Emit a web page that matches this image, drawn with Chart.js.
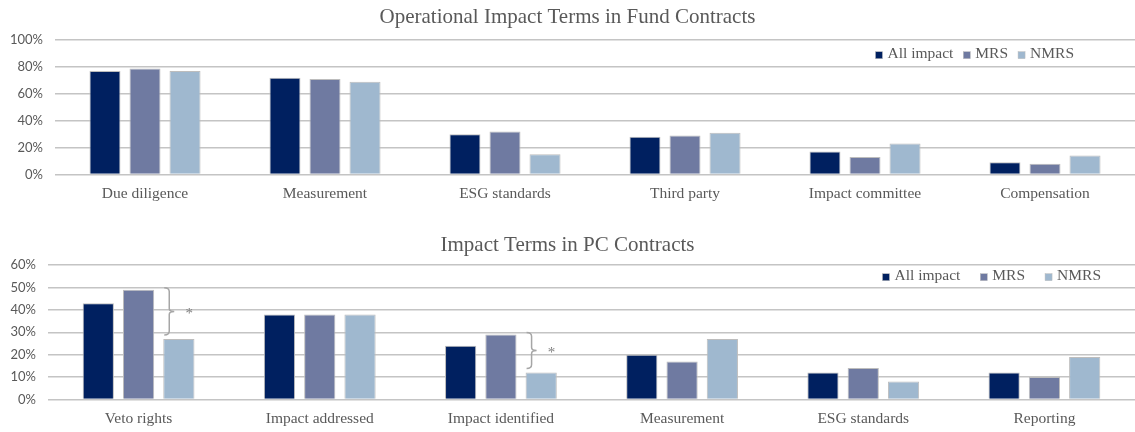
<!DOCTYPE html>
<html>
<head>
<meta charset="utf-8">
<script src="https://cdn.jsdelivr.net/npm/chart.js@4"></script>
<style>
  body { margin: 0; background: #fff; overflow: hidden; }
  .box { position: absolute; left: 0; width: 1135px; }
  #top { top: 0; height: 207px; }
  #bottom { top: 228px; height: 204px; }
</style>
</head>
<body>
<div class="box" id="top"><canvas id="fundChart" width="1135" height="207"></canvas></div>
<div class="box" id="bottom"><canvas id="pcChart" width="1135" height="204"></canvas></div>
<script>
const seriesNames = ['All impact', 'MRS', 'NMRS'];

const fundCats = ['Due diligence', 'Measurement', 'ESG standards', 'Third party', 'Impact committee', 'Compensation'];
const fundAll = [77, 72, 30, 28, 17, 9];
const fundMrs = [79, 71, 32, 29, 13, 8];
const fundNmrs = [77, 69, 15, 31, 23, 14];

const pcCats = ['Veto rights', 'Impact addressed', 'Impact identified', 'Measurement', 'ESG standards', 'Reporting'];
const pcAll = [43, 38, 24, 20, 12, 12];
const pcMrs = [49, 38, 29, 17, 14, 10];
const pcNmrs = [27, 38, 12, 27, 8, 19];
// categories with a significant MRS vs NMRS difference
const pcSig = [0, 2];

const colors = ['#002060', '#6f7aa1', '#9fb8cf'];
const grey = '#595959';
const serif = '"Liberation Serif", "Times New Roman", serif';

function makeDatasets(all, mrs, nmrs) {
  return [all, mrs, nmrs].map((d, i) => ({
    label: seriesNames[i],
    data: d,
    backgroundColor: colors[i],
    borderColor: '#bdbdbd',
    borderWidth: 1,
    categoryPercentage: 0.667,
    barPercentage: 0.775
  }));
}

// legend drawn inside the plot area, top right
const insideLegend = {
  id: 'insideLegend',
  afterDraw(chart, args, opts) {
    const ctx = chart.ctx;
    const area = chart.chartArea;
    ctx.save();
    ctx.font = '15.5px ' + serif;
    ctx.textBaseline = 'middle';
    const items = chart.data.datasets.map(ds => ({ text: ds.label, color: ds.backgroundColor, w: ctx.measureText(ds.label).width }));
    let total = 0;
    items.forEach((it, i) => {
      total += opts.box + opts.boxGap + it.w;
      if (i < items.length - 1) total += opts.itemGap;
    });
    let x = area.right - opts.right - total;
    const y = area.top + opts.top;
    items.forEach(it => {
      ctx.fillStyle = it.color;
      ctx.fillRect(x, y - opts.box / 2 + 1, opts.box, opts.box);
      ctx.strokeStyle = '#bdbdbd';
      ctx.lineWidth = 0.5;
      ctx.strokeRect(x, y - opts.box / 2 + 1, opts.box, opts.box);
      x += opts.box + opts.boxGap;
      ctx.fillStyle = grey;
      ctx.fillText(it.text, x, y);
      x += it.w + opts.itemGap;
    });
    ctx.restore();
  }
};

// curly bracket + star between MRS and NMRS bars
const sigBrackets = {
  id: 'sigBrackets',
  afterDatasetsDraw(chart, args, opts) {
    if (!opts.cats) return;
    const ctx = chart.ctx;
    const yScale = chart.scales.y;
    const mrs = chart.data.datasets[1].data;
    const nmrs = chart.data.datasets[2].data;
    const nmrsMeta = chart.getDatasetMeta(2);
    ctx.save();
    ctx.strokeStyle = '#a6a6a6';
    ctx.lineWidth = 1.5;
    opts.cats.forEach(i => {
      const bar = nmrsMeta.data[i];
      const left = bar.x - bar.width / 2;
      const xv = left + 6;
      const y1 = yScale.getPixelForValue(mrs[i]) - 2;
      const y2 = yScale.getPixelForValue(nmrs[i]) - 4;
      const ym = (y1 + y2) / 2;
      ctx.beginPath();
      ctx.moveTo(xv - 5, y1);
      ctx.quadraticCurveTo(xv, y1, xv, y1 + 4);
      ctx.lineTo(xv, ym - 3);
      ctx.quadraticCurveTo(xv, ym, xv + 5, ym);
      ctx.quadraticCurveTo(xv, ym, xv, ym + 3);
      ctx.lineTo(xv, y2 - 4);
      ctx.quadraticCurveTo(xv, y2, xv - 5, y2);
      ctx.stroke();
      ctx.fillStyle = '#7f7f7f';
      ctx.font = '15px ' + serif;
      ctx.textAlign = 'center';
      ctx.textBaseline = 'middle';
      ctx.fillText('*', xv + 20, ym + 3);
    });
    ctx.restore();
  }
};

function makeOptions(title, titleGap, max, step, axisWidth, legendOpts, sigCats) {
  return {
    responsive: false,
    animation: false,
    layout: { padding: { top: 0, right: 0, bottom: -6, left: 0 } },
    plugins: {
      legend: { display: false },
      tooltip: { enabled: false },
      title: {
        display: true,
        text: title,
        color: grey,
        font: { family: serif, size: 21, weight: 'normal' },
        padding: { top: 5, bottom: titleGap }
      },
      insideLegend: legendOpts,
      sigBrackets: { cats: sigCats }
    },
    scales: {
      x: {
        grid: { display: false, drawTicks: false },
        border: { display: false },
        ticks: { color: grey, font: { family: serif, size: 15.5 }, padding: 10, maxRotation: 0 }
      },
      y: {
        min: 0,
        max: max,
        afterFit: s => { s.width = axisWidth; },
        grid: { color: '#c4c4c4', lineWidth: 1.5, drawTicks: false },
        border: { display: false },
        ticks: {
          stepSize: step,
          color: grey,
          padding: 12,
          font: { family: 'Lato', size: 13 },
          callback: v => v + '%'
        }
      }
    }
  };
}

new Chart(document.getElementById('fundChart'), {
  type: 'bar',
  data: { labels: fundCats, datasets: makeDatasets(fundAll, fundMrs, fundNmrs) },
  options: makeOptions('Operational Impact Terms in Fund Contracts', 10, 100, 20, 55,
    { box: 7, boxGap: 5, itemGap: 10, right: 61, top: 14 }, null),
  plugins: [insideLegend, sigBrackets]
});

new Chart(document.getElementById('pcChart'), {
  type: 'bar',
  data: { labels: pcCats, datasets: makeDatasets(pcAll, pcMrs, pcNmrs) },
  options: makeOptions('Impact Terms in PC Contracts', 7, 60, 10, 48,
    { box: 7, boxGap: 5, itemGap: 20, right: 34, top: 11 }, pcSig),
  plugins: [insideLegend, sigBrackets]
});
</script>
</body>
</html>
